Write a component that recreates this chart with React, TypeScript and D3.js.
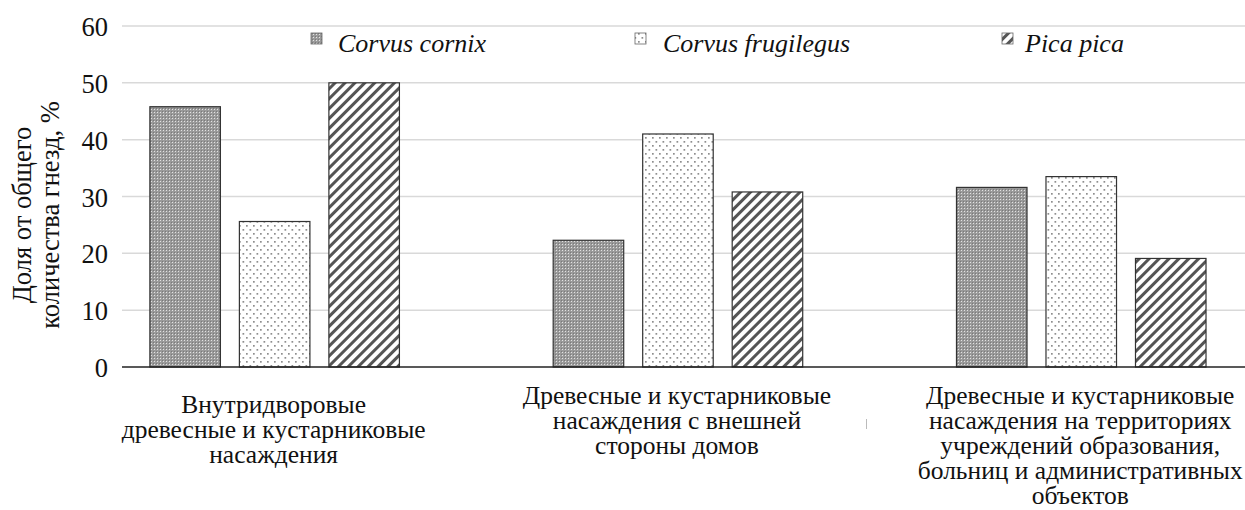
import React from "react";
import * as d3 from "d3";

const categories: string[][] = [
  ["Внутридворовые", "древесные и кустарниковые", "насаждения"],
  ["Древесные и кустарниковые", "насаждения с внешней", "стороны домов"],
  ["Древесные и кустарниковые", "насаждения на территориях", "учреждений образования,", "больниц и административных", "объектов"],
];
const seriesNames = ["Corvus cornix", "Corvus frugilegus", "Pica pica"];
const cornix = [45.8, 22.3, 31.6];
const frugilegus = [25.6, 41.0, 33.5];
const pica = [50.0, 30.8, 19.1];
const yTicks = [0, 10, 20, 30, 40, 50, 60];
const yTitle = ["Доля от общего", "количества гнезд, %"];

const W = 1245;
const H = 510;
const FONT = "Liberation Serif";

function T(props: any) {
  const { children, fs, italic, ...rest } = props;
  return (
    <text
      fontFamily={FONT}
      fontSize={fs}
      fontStyle={italic ? "italic" : "normal"}
      style={{ fontFamily: '"Liberation Serif"', fontSize: `${fs}px` }}
      fill="#111"
      {...rest}
    >
      {children}
    </text>
  );
}

export default function App() {
  const seriesValues = [cornix, frugilegus, pica];
  const patterns = ["pCornix", "pFrug", "pPica"];
  const y = d3.scaleLinear().domain([0, 60]).range([367, 26]);
  const x0 = d3.scaleBand<number>().domain([0, 1, 2]).range([73, 73 + 3 * 403.3]).padding(0);
  const x1 = d3
    .scaleBand<number>()
    .domain([0, 1, 2])
    .range([0, x0.bandwidth()])
    .paddingInner(0.212)
    .paddingOuter(0.859);
  const axisLeft = 122;
  const labelTop = [404, 395, 395];
  const legendSwatchX = [311, 635, 1002];
  const legendTextX = [338, 663, 1025];
  const catFs = 25.5;
  const pitch = 25;

  return (
    <svg width={W} height={H} style={{ position: "absolute", left: 0, top: 0, background: "#fff" }}>
      <defs>
        <pattern id="pCornix" width={3} height={3} patternUnits="userSpaceOnUse">
          <rect width={3} height={3} fill="#9a9a9a" />
          <rect x={1} y={1} width={1} height={1} fill="#e2e2e2" />
          <rect x={0} y={0} width={1} height={1} fill="#7a7a7a" />
        </pattern>
        <pattern id="pFrug" width={7} height={8} patternUnits="userSpaceOnUse">
          <rect width={7} height={8} fill="#fff" />
          <rect x={1} y={1} width={1.7} height={1.7} fill="#8e8e8e" />
          <rect x={4.5} y={5} width={1.7} height={1.7} fill="#8e8e8e" />
        </pattern>
        <pattern id="pPica" width={7} height={7} patternUnits="userSpaceOnUse" patternTransform="rotate(45)">
          <rect width={7} height={7} fill="#fff" />
          <rect x={0} y={0} width={3} height={7} fill="#555" />
        </pattern>
      </defs>

      {yTicks.map((t) => (
        <g key={t}>
          {t !== 0 && (
            <line x1={axisLeft} x2={W} y1={y(t)} y2={y(t)} stroke="#d9d9d9" strokeWidth={1.5} />
          )}
          <T x={108} y={y(t) + 1 + 0.34 * 26.5} textAnchor="end" fs={26.5}>
            {t}
          </T>
        </g>
      ))}

      {seriesValues.map((vals, s) =>
        vals.map((v, i) => (
          <rect
            key={`${s}-${i}`}
            x={(x0(i) ?? 0) + (x1(s) ?? 0)}
            y={y(v)}
            width={x1.bandwidth()}
            height={y(0) - y(v)}
            fill={`url(#${patterns[s]})`}
            stroke="#333"
            strokeWidth={1.2}
          />
        ))
      )}

      <line x1={axisLeft} x2={W} y1={y(0)} y2={y(0)} stroke="#222" strokeWidth={1.5} />

      {categories.map((lines, i) =>
        lines.map((ln, j) => (
          <T
            key={`${i}-${j}`}
            x={(x0(i) ?? 0) + x0.bandwidth() / 2 - 1}
            y={labelTop[i] + j * pitch + 0.34 * catFs}
            textAnchor="middle"
            fs={catFs}
          >
            {ln}
          </T>
        ))
      )}

      <rect x={866} y={419} width={1} height={10} fill="#bbb" />

      {seriesNames.map((n, s) => (
        <g key={n}>
          <rect
            x={legendSwatchX[s]}
            y={33}
            width={11}
            height={11}
            fill={`url(#${patterns[s]})`}
            stroke="#666"
            strokeWidth={0.8}
          />
          <T x={legendTextX[s]} y={43 + 0.34 * 26} fs={26} italic>
            {n}
          </T>
        </g>
      ))}

      {yTitle.map((ln, j) => (
        <T
          key={j}
          transform={`translate(${22 + j * 28 + 0.34 * 26.5},215) rotate(-90)`}
          x={0}
          y={0}
          textAnchor="middle"
          fs={26.5}
        >
          {ln}
        </T>
      ))}
    </svg>
  );
}
